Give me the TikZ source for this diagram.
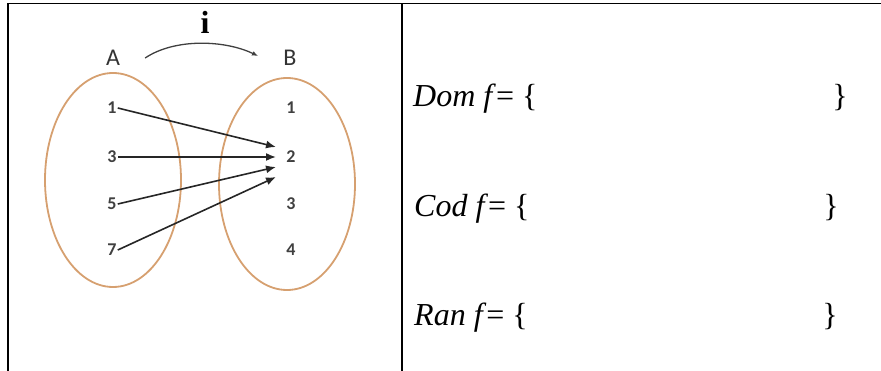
\documentclass[tikz,border=0pt]{standalone}
\usepackage{fontspec}
\setmainfont{Liberation Serif}
\newfontfamily\calib{Carlito}
\usetikzlibrary{arrows.meta}
\definecolor{setcol}{RGB}{214,160,112}
\begin{document}
\begin{tikzpicture}[x=1pt,y=-1pt,
  setname/.style={font=\calib\fontsize{24}{24}\selectfont,text=black!80,inner sep=0pt},
  elem/.style={font=\calib\bfseries\fontsize{18}{18}\selectfont,text=black!75,inner sep=1pt},
  maparrow/.style={draw=black!85,line width=1.6pt,-{Latex[length=10pt,width=8pt]}},
  formula/.style={font=\fontsize{32}{32}\selectfont,inner sep=0pt,anchor=base west},
  brace/.style={font=\fontsize{32}{32}\selectfont,inner sep=0pt,anchor=base}]
\useasboundingbox (0,0) rectangle (881,371);
% table lines
\draw[line width=1.8pt] (8,371) -- (8,3.5) -- (881,3.5);
\draw[line width=1.8pt] (402,3.5) -- (402,371);
% ellipses
\draw[draw=setcol,line width=1.8pt] (113,180) ellipse [x radius=68,y radius=107];
\draw[draw=setcol,line width=1.8pt] (287,184) ellipse [x radius=68,y radius=106];
% set names
\node[setname] (A) at (113,58) {A};
\node[setname] (B) at (290,58) {B};
\node[font=\bfseries\fontsize{32}{32}\selectfont,inner sep=0pt] (i) at (205,22) {i};
\draw[draw=black!75,line width=1.3pt,-{Latex[length=6pt,width=5pt]}] (A.east) ++(25,0) coordinate (cs)
  .. controls (175,38) and (225,40) .. (258,56) coordinate (ce);
% elements
\node[elem] (a1) at (112,108) {1};
\node[elem] (a3) at (112,157) {3};
\node[elem] (a5) at (112,204) {5};
\node[elem] (a7) at (112,250) {7};
\node[elem] (b1) at (291,108) {1};
\node[elem] (b2) at (291,157) {2};
\node[elem] (b3) at (291,204) {3};
\node[elem] (b4) at (291,250) {4};
\coordinate (t1) at (276,147);
\coordinate (t2) at (276,157);
\coordinate (t3) at (276,167);
\coordinate (t4) at (276,177);
\draw[maparrow] (a1.east) -- (t1);
\draw[maparrow] (a3.east) -- (t2);
\draw[maparrow] (a5.east) -- (t3);
\draw[maparrow] (a7.east) -- (t4);
% formulas
\node[formula] (dom) at (413,107) {\textit{Dom f}= \{};
\node[brace] (domc) at (840,107) {\}};
\node[formula] (cod) at (414,217) {\textit{Cod f}= \{};
\node[brace] (codc) at (831,217) {\}};
\node[formula] (ran) at (414,326) {\textit{Ran f}= \{};
\node[brace] (ranc) at (830,326) {\}};
\end{tikzpicture}
\end{document}
